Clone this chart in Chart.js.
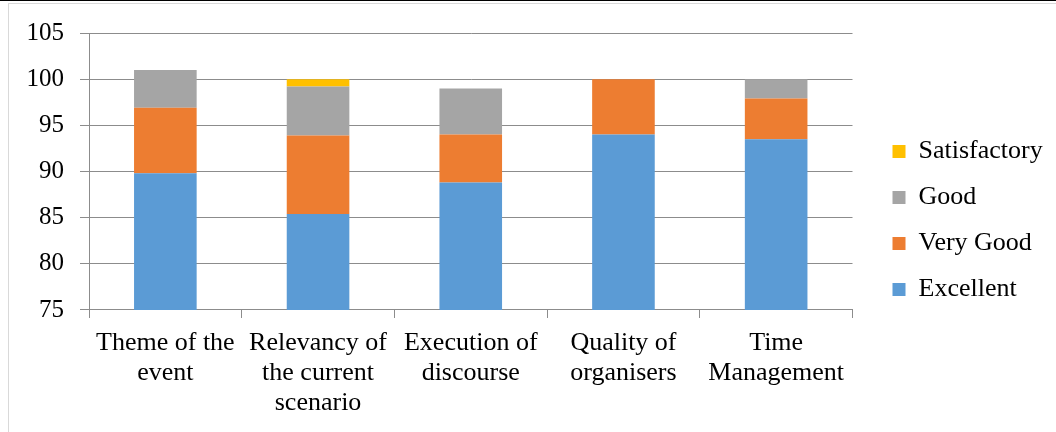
<!DOCTYPE html>
<html>
<head>
<meta charset="utf-8">
<script src="https://cdn.jsdelivr.net/npm/chart.js@4.4.1/dist/chart.umd.min.js"></script>
<style>
  body { margin: 0; background: #fff; }
  #topline { position: absolute; left: 0; top: 0; width: 1056px; height: 1px; background: #000; }
  #frame { position: absolute; left: 8px; top: 3px; width: 1060px; height: 440px; border: 1px solid #d9d9d9; }
  #wrap { position: absolute; left: 0; top: 0; width: 1056px; height: 432px; }
</style>
</head>
<body>
<div id="topline"></div>
<div id="frame"></div>
<div id="wrap"><canvas id="myChart" width="1056" height="432"></canvas></div>
<script>
const categorias = [
    ["Theme of the", "event"],
    ["Relevancy of", "the current", "scenario"],
    ["Execution of", "discourse"],
    ["Quality of", "organisers"],
    ["Time", "Management"]
];
const excellent = [89.8, 85.4, 88.8, 94.0, 93.5];
const veryGood = [7.1, 8.5, 5.2, 6.0, 4.4];
const good = [4.1, 5.3, 5.0, 0, 2.1];
const satisfactory = [0, 0.8, 0, 0, 0];
const yMin = 75, yMax = 105, yStep = 5;

const fuente = "'Liberation Serif', 'Times New Roman', serif";
const lineaGris = "#8c8c8c";

const graphic = document.getElementById("myChart").getContext("2d");

function serie(label, data, color) {
    return {
        label: label,
        data: data,
        backgroundColor: color,
        borderWidth: 0,
        barPercentage: 0.41,
        categoryPercentage: 1
    };
}

window.graphic = new Chart(graphic, {
    type: "bar",
    data: {
        labels: categorias,
        datasets: [
            serie("Excellent", excellent, "#5B9BD5"),
            serie("Very Good", veryGood, "#ED7D31"),
            serie("Good", good, "#A5A5A5"),
            serie("Satisfactory", satisfactory, "#FFC000")
        ]
    },
    options: {
        responsive: false,
        animation: false,
        maintainAspectRatio: false,
        layout: { padding: { top: 13, left: 0, right: 9, bottom: 4 } },
        plugins: {
            tooltip: { enabled: false },
            legend: {
                position: "right",
                reverse: true,
                labels: {
                    boxWidth: 13,
                    boxHeight: 13,
                    padding: 20,
                    color: "#000",
                    font: { family: fuente, size: 26 }
                }
            }
        },
        scales: {
            x: {
                stacked: true,
                grid: { display: true, drawOnChartArea: false, drawTicks: true, tickLength: 8, offset: true, color: lineaGris },
                border: { display: true, color: lineaGris },
                ticks: { color: "#000", padding: 10, maxRotation: 0, autoSkip: false, font: { family: fuente, size: 26, lineHeight: 1.154 } }
            },
            y: {
                stacked: true,
                min: yMin,
                max: yMax,
                ticks: { stepSize: yStep, color: "#000", padding: 16, font: { family: fuente, size: 25 } },
                grid: { color: lineaGris, tickLength: 9 },
                border: { display: true, color: lineaGris },
                afterFit: function (s) { s.width = 89; }
            },
            hueco: {
                position: "right",
                display: true,
                grid: { display: false },
                border: { display: false },
                ticks: { display: false },
                afterFit: function (s) { s.width = 20; }
            },
            huecoTop: {
                position: "top",
                display: true,
                grid: { display: false },
                border: { display: false },
                ticks: { display: false },
                afterFit: function (s) { s.height = 20; }
            }
        }
    }
});
</script>
</body>
</html>
